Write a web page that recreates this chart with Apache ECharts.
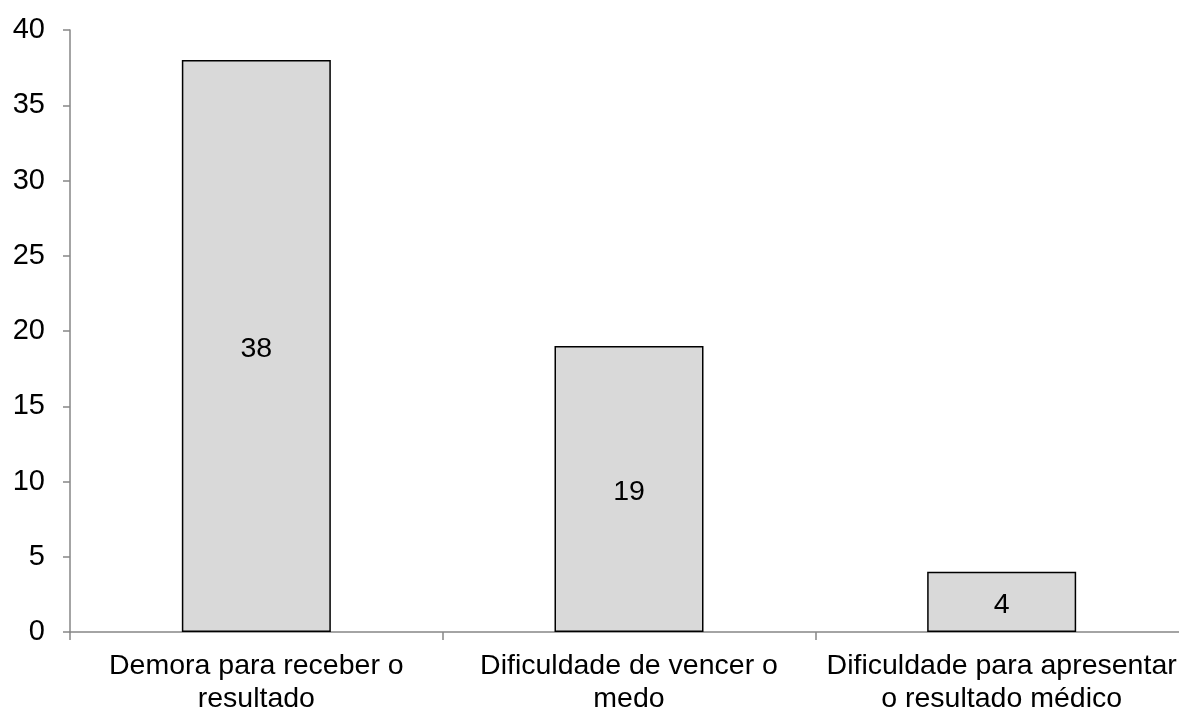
<!DOCTYPE html>
<html>
<head>
<meta charset="utf-8">
<script src="https://cdn.jsdelivr.net/npm/echarts@6/dist/echarts.min.js"></script>
<style>
  html, body { margin: 0; padding: 0; background: #fff; overflow: hidden; }
  #chart { width: 1179px; height: 711px; }
</style>
</head>
<body>
<div id="chart"></div>
<script>
// Categories (two-line labels) and their counts
const categories = [
  'Demora para receber o\nresultado',
  'Dificuldade de vencer o\nmedo',
  'Dificuldade para apresentar\no resultado médico'
];
const counts = [38, 19, 4];

// Value axis range
const yMin = 0;
const yMax = 40;
const yStep = 5;

const FONT = '"Liberation Sans", Arial, sans-serif';
const axisGrey = '#868686';

const chart = echarts.init(document.getElementById('chart'), null, { renderer: 'canvas' });
chart.setOption({
  animation: false,
  backgroundColor: '#ffffff',
  // the plot runs a little past the right edge of the canvas
  grid: {
    left: 70, width: 1118, top: 30, bottom: 79,
    containLabel: false,
    outerBoundsMode: 'none'
  },
  xAxis: {
    type: 'category',
    data: categories,
    axisLine: { show: true, lineStyle: { color: axisGrey, width: 1.5 } },
    axisTick: { show: true, alignWithLabel: false, length: 8, lineStyle: { color: axisGrey, width: 1.5 } },
    axisLabel: {
      interval: 0,
      margin: 18,
      color: '#000',
      fontFamily: FONT,
      fontSize: 28.5,
      lineHeight: 33,
      align: 'center'
    },
    splitLine: { show: false }
  },
  yAxis: {
    type: 'value',
    min: yMin,
    max: yMax,
    interval: yStep,
    axisLine: { show: true, lineStyle: { color: axisGrey, width: 1.5 } },
    axisTick: { show: true, length: 7, lineStyle: { color: axisGrey, width: 1.5 } },
    axisLabel: {
      margin: 25,
      color: '#000',
      fontFamily: FONT,
      fontSize: 29
    },
    splitLine: { show: false }
  },
  series: [{
    type: 'bar',
    data: counts,
    barWidth: 149,
    itemStyle: { color: '#d9d9d9', borderColor: '#000', borderWidth: 1.5 },
    label: {
      show: true,
      position: 'inside',
      offset: [0, 3],
      color: '#000',
      fontFamily: FONT,
      fontSize: 28.5
    }
  }]
});
</script>
</body>
</html>
